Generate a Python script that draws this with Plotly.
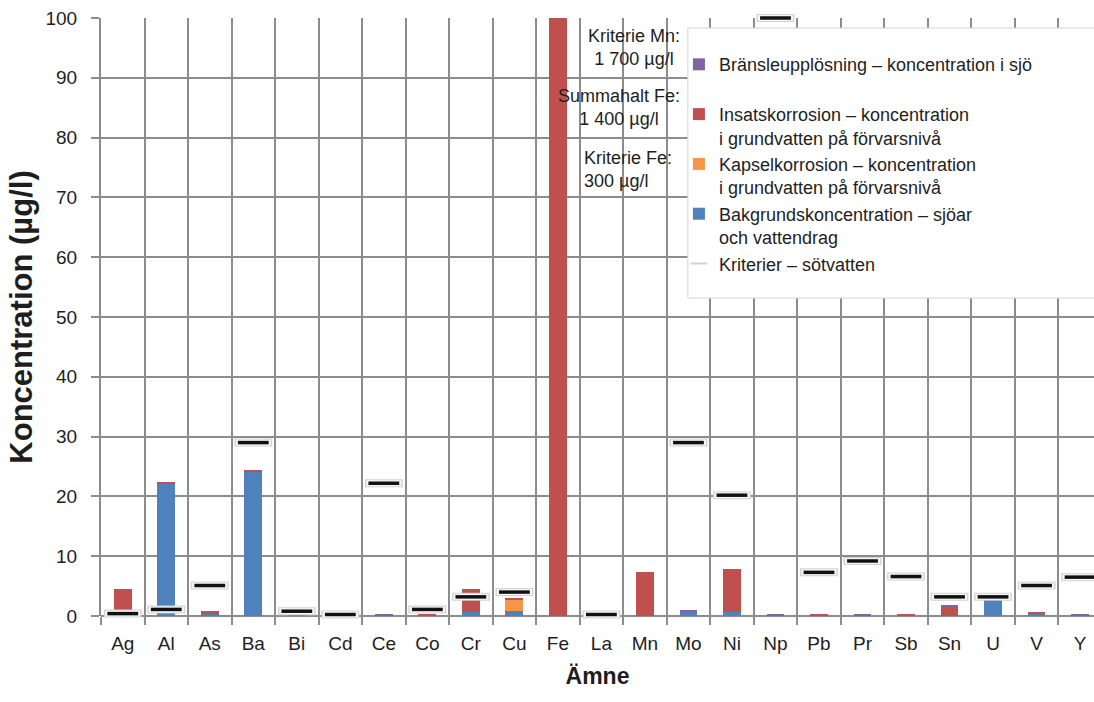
import plotly.graph_objects as go

# Ämnen (grundämnen) längs x-axeln
amnen = ["Ag", "Al", "As", "Ba", "Bi", "Cd", "Ce", "Co", "Cr", "Cu", "Fe", "La",
         "Mn", "Mo", "Ni", "Np", "Pb", "Pr", "Sb", "Sn", "U", "V", "Y"]

# Koncentrationer i µg/l, staplade nerifrån och upp
bakgrund = [0.05, 22.1, 0.5, 24.2, 0.0, 0.0, 0.0, 0.0, 0.6, 0.9, 0.0, 0.0,
            0.0, 0.8, 0.7, 0.0, 0.0, 0.0, 0.0, 0.0, 2.55, 0.35, 0.0]
kapsel = [0.0, 0.0, 0.0, 0.0, 0.0, 0.0, 0.0, 0.0, 0.0, 1.8, 0.0, 0.0,
          0.0, 0.0, 0.0, 0.0, 0.0, 0.0, 0.0, 0.0, 0.0, 0.0, 0.0]
insats = [4.45, 0.2, 0.3, 0.2, 0.15, 0.05, 0.0, 0.3, 3.9, 0.15, 1400.0, 0.05,
          7.35, 0.0, 7.15, 0.0, 0.2, 0.0, 0.2, 1.65, 0.0, 0.2, 0.0]
bransle = [0.0, 0.0, 0.0, 0.0, 0.0, 0.0, 0.2, 0.0, 0.0, 0.0, 0.0, 0.0,
           0.0, 0.2, 0.0, 0.2, 0.0, 0.2, 0.0, 0.2, 1.15, 0.0, 0.2]

# Kriterier för sötvatten (µg/l)
kriterier = [0.4, 1.1, 5.1, 29.0, 0.8, 0.25, 22.2, 1.1, 3.2, 4.0, 300.0, 0.25,
             1700.0, 29.0, 20.2, 100.0, 7.3, 9.2, 6.6, 3.2, 3.2, 5.1, 6.5]

namn_bransle = "Bränsleupplösning – koncentration i sjö<br> "
namn_insats = "Insatskorrosion – koncentration<br>i grundvatten på förvarsnivå"
namn_kapsel = "Kapselkorrosion – koncentration<br>i grundvatten på förvarsnivå"
namn_bakgrund = "Bakgrundskoncentration – sjöar<br>och vattendrag"
namn_kriterier = "Kriterier – sötvatten"

BLA = "#4f81bd"
ORANGE = "#f79646"
ROD = "#c0504d"
LILA = "#8064a2"
GRID = "#8c8c8c"
TEXT = "#1e1e1e"
FONT = "Liberation Sans, Arial, sans-serif"

fig = go.Figure()

for varden, namn, farg, rank in [
    (bakgrund, namn_bakgrund, BLA, 4),
    (kapsel, namn_kapsel, ORANGE, 3),
    (insats, namn_insats, ROD, 2),
    (bransle, namn_bransle, LILA, 1),
]:
    fig.add_trace(go.Bar(
        x=amnen, y=varden, name=namn, marker=dict(color=farg, line=dict(width=0)),
        legendrank=rank,
    ))

# Kriterier: svart streck med ljus kant (yttre grå, inre vit, svart kärna)
fig.add_trace(go.Scatter(
    x=amnen, y=kriterier, mode="markers", name=namn_kriterier, showlegend=True,
    legendrank=5, cliponaxis=False,
    marker=dict(symbol="line-ew", size=27, color="#d2d2d2",
                line=dict(color="#d2d2d2", width=8)),
))
fig.add_trace(go.Scatter(
    x=amnen, y=kriterier, mode="markers", showlegend=False, cliponaxis=False,
    marker=dict(symbol="line-ew", size=25, color="#f7f7f7",
                line=dict(color="#f7f7f7", width=6)),
))
fig.add_trace(go.Scatter(
    x=amnen, y=kriterier, mode="markers", showlegend=False, cliponaxis=False,
    marker=dict(symbol="line-ew", size=22, color="#111111",
                line=dict(color="#111111", width=3.5)),
))

# Textrutor för värden utanför skalan
annot_font = dict(family=FONT, size=18, color=TEXT)
fig.add_annotation(x=11.76, y=95.0, xref="x", yref="y", showarrow=False,
                   text="Kriterie Mn:<br>1 700 µg/l", align="center", font=annot_font)
fig.add_annotation(x=11.40, y=85.0, xref="x", yref="y", showarrow=False,
                   text="Summahalt Fe:<br>1 400 µg/l", align="center", font=annot_font)
fig.add_annotation(x=10.55, y=74.7, xref="x", yref="y", showarrow=False, xanchor="left",
                   text="Kriterie Fe:<br>300 µg/l", align="left", font=annot_font)

# Ram bakom teckenförklaringen
fig.add_shape(type="rect", xref="paper", yref="paper",
              x0=0.591, x1=1.02, y0=(616 - 298) / 598, y1=(616 - 28) / 598,
              fillcolor="white", line=dict(color="#d4d4d4", width=1), layer="above")

fig.update_layout(
    width=1094, height=702,
    margin=dict(l=101, r=0, t=18, b=86),
    paper_bgcolor="white", plot_bgcolor="white",
    barmode="stack", bargap=0.59,
    font=dict(family=FONT, size=19, color=TEXT),
    legend=dict(
        x=0.582, y=0.953, xanchor="left", yanchor="top", traceorder="normal",
        bgcolor="rgba(0,0,0,0)", borderwidth=0,
        font=dict(family=FONT, size=18, color=TEXT),
        valign="top", itemsizing="constant", tracegroupgap=0,
    ),
    showlegend=True,
)

fig.update_xaxes(
    type="category", range=[-0.5, 22.32], tickson="boundaries",
    showgrid=True, gridcolor=GRID, gridwidth=2,
    ticks="outside", ticklen=8, tickcolor=GRID, tickwidth=2,
    ticklabelstandoff=14,
    showline=False, zeroline=False,
    tickfont=dict(family=FONT, size=19, color=TEXT),
    title=dict(text="<b>Ämne</b>", font=dict(family=FONT, size=23, color=TEXT), standoff=14),
)
fig.update_yaxes(
    range=[0, 100], dtick=10, tick0=0,
    showgrid=True, gridcolor=GRID, gridwidth=2,
    ticks="outside", ticklen=8, tickcolor=GRID, tickwidth=2,
    ticklabelstandoff=10,
    zeroline=True, zerolinecolor=GRID, zerolinewidth=2,
    showline=True, linecolor=GRID, linewidth=2,
    tickfont=dict(family=FONT, size=19, color=TEXT),
    title=dict(text="<b>Koncentration (µg/l)</b>", font=dict(family=FONT, size=31, color=TEXT),
               standoff=4),
)

fig.write_html("out.html")
